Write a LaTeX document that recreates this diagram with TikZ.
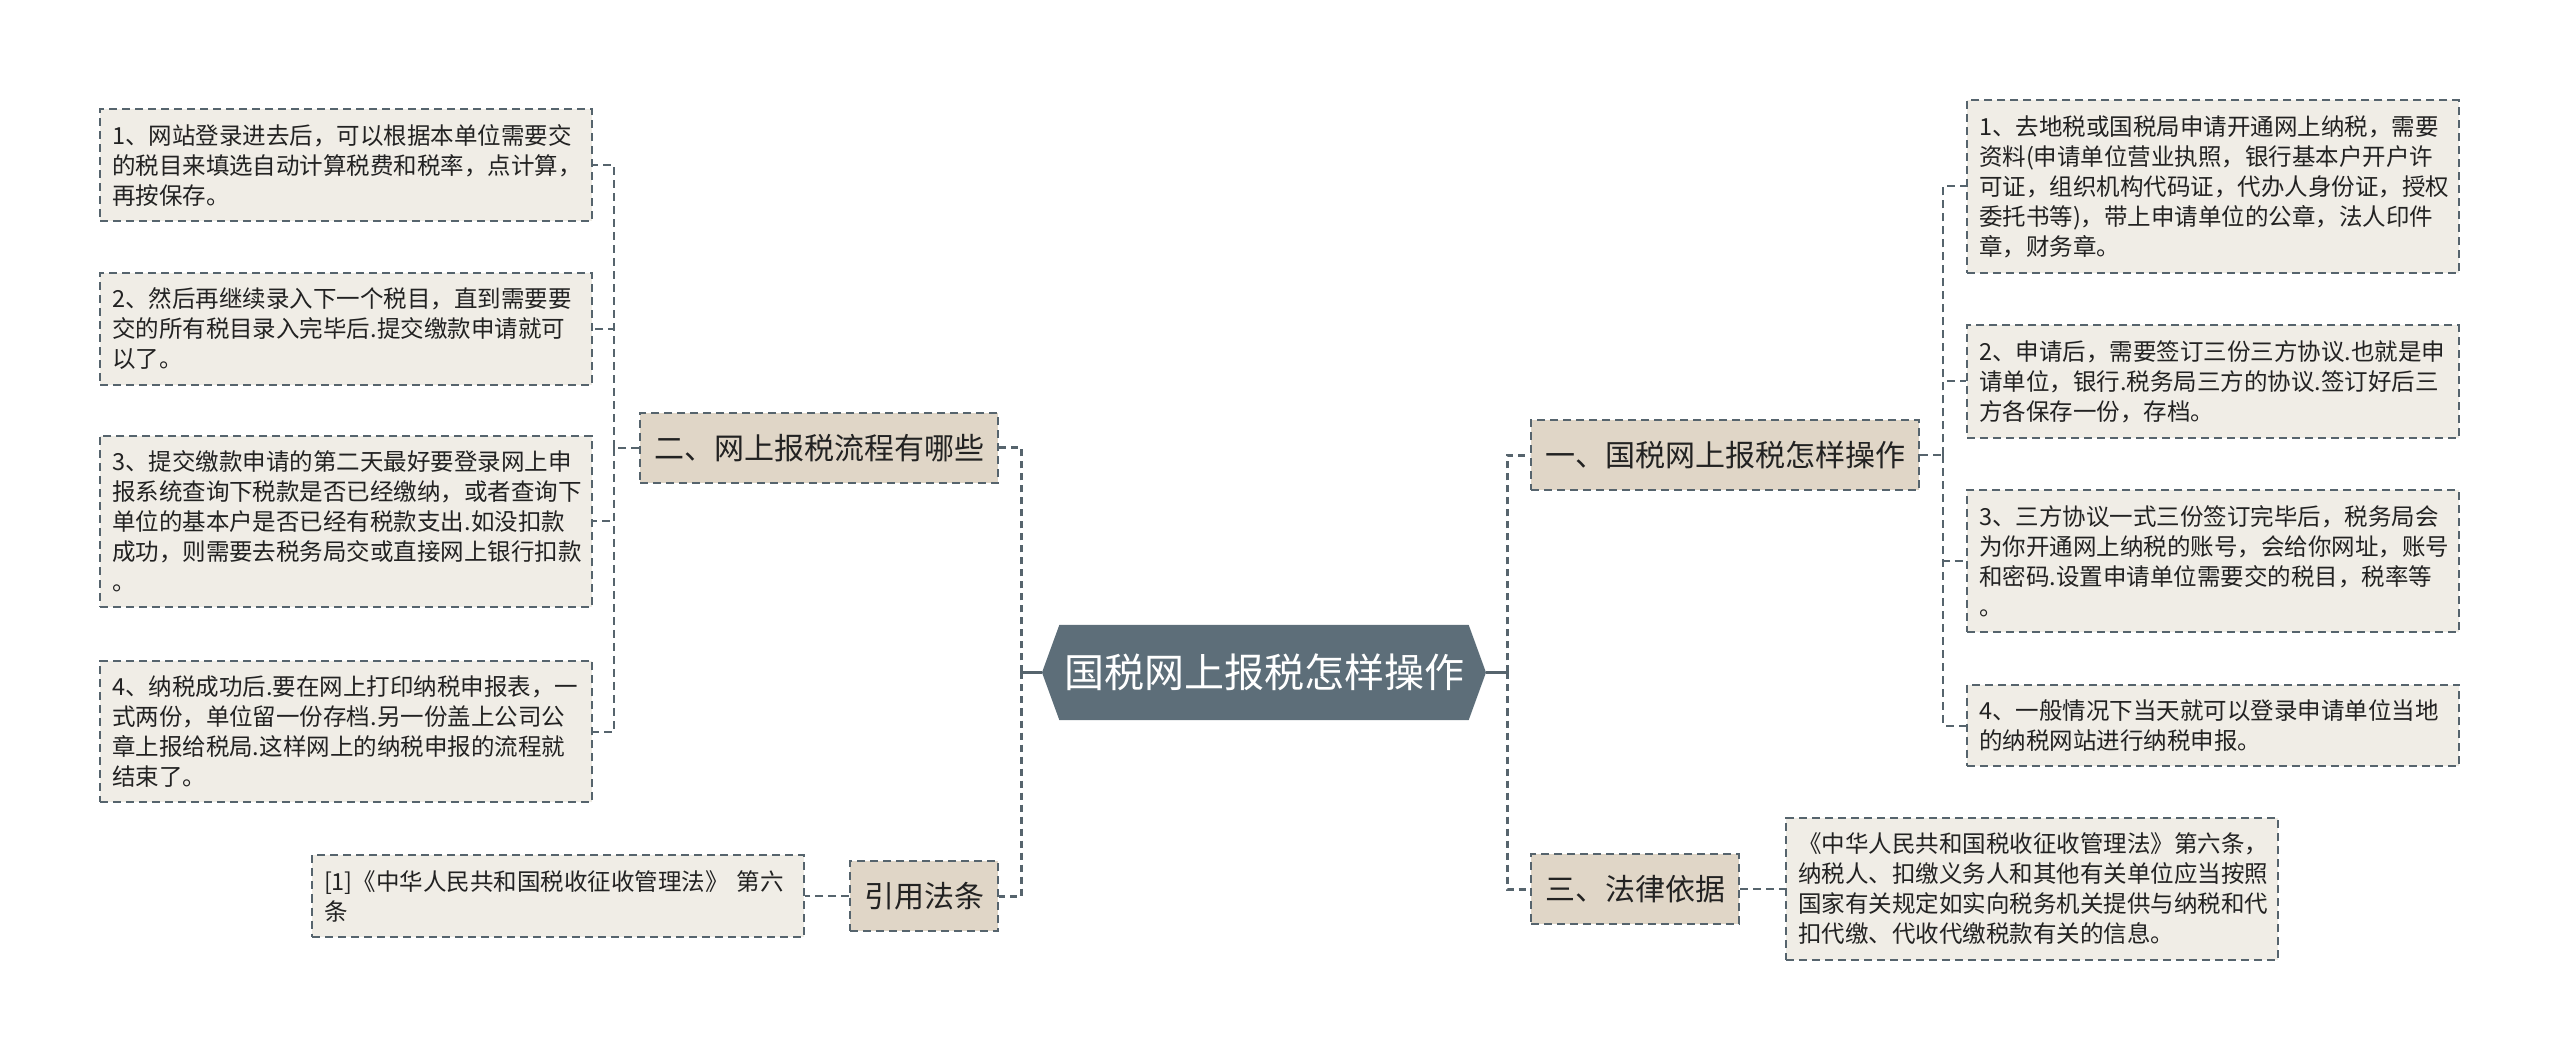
\documentclass[tikz,border=0pt]{standalone}
\usepackage{fontspec}
\setmainfont{Noto Sans CJK SC}
\usetikzlibrary{shapes.symbols}

\definecolor{linec}{HTML}{56646D}
\definecolor{rootc}{HTML}{5D6E79}
\definecolor{leafc}{HTML}{F0EDE6}
\definecolor{branchc}{HTML}{E0D6C7}
\definecolor{textc}{HTML}{222222}

\tikzset{
  box/.style={draw=linec,line width=1pt,dash pattern=on 4pt off 2.5pt,text=textc},
  leaf/.style={box,fill=leafc,text width=234pt,align=left,inner xsep=6pt,inner ysep=7.5pt,
    font=\fontsize{11.75pt}{15pt}\selectfont},
  branch/.style={box,fill=branchc,minimum height=35pt,inner xsep=7pt,
    font=\fontsize{15pt}{18pt}\selectfont},
  rootbox/.style={shape=signal,signal to=west and east,signal pointer angle=140,fill=rootc,
    text=white,minimum width=222pt,minimum height=47.5pt,inner sep=0pt,
    font=\fontsize{20pt}{24pt}\selectfont},
  link/.style={draw=linec,line width=1pt,dash pattern=on 4pt off 2.5pt},
  trunk/.style={draw=linec,line width=1.5pt,dash pattern=on 3.5pt off 2.5pt},
  stem/.style={draw=linec,line width=1.5pt}
}

\begin{document}
\begin{tikzpicture}[x=0.5pt,y=-0.5pt]
\useasboundingbox (0,0) rectangle (2560,1063);

% centre
\node[rootbox] (root) at (1264,672.5) {国税网上报税怎样操作};
\coordinate (lt) at (1021,672.5);
\coordinate (rt) at (1507,672.5);

% branches
\node[branch,anchor=east] (b2) at (999,448) {二、网上报税流程有哪些};
\node[branch,anchor=east] (cite) at (999,896) {引用法条};
\node[branch,anchor=west] (b1) at (1530,455.5) {一、国税网上报税怎样操作};
\node[branch,anchor=west] (b3) at (1530,889) {三、法律依据};

\draw[stem] (root.west) -- (lt);
\draw[stem] (root.east) -- (rt);
\draw[trunk] (lt) |- (b2.east);
\draw[trunk] (lt) |- (cite.east);
\draw[trunk] (rt) |- (b1.west);
\draw[trunk] (rt) |- (b3.west);

% left leaves
\node[leaf,anchor=east] (l1) at (593,165) {1、网站登录进去后，可以根据本单位需要交\\的税目来填选自动计算税费和税率，点计算，\\再按保存。};
\node[leaf,anchor=east] (l2) at (593,329) {2、然后再继续录入下一个税目，直到需要要\\交的所有税目录入完毕后.提交缴款申请就可\\以了。};
\node[leaf,anchor=east] (l3) at (593,521.5) {3、提交缴款申请的第二天最好要登录网上申\\报系统查询下税款是否已经缴纳，或者查询下\\单位的基本户是否已经有税款支出.如没扣款\\成功，则需要去税务局交或直接网上银行扣款\\。};
\node[leaf,anchor=east] (l4) at (593,731.5) {4、纳税成功后.要在网上打印纳税申报表，一\\式两份，单位留一份存档.另一份盖上公司公\\章上报给税局.这样网上的纳税申报的流程就\\结束了。};
\node[leaf,anchor=east] (ref) at (805,896) {[1]《中华人民共和国税收征收管理法》 第六\\条};

\coordinate (k2) at (614,448);
\draw[link] (b2.west) -- (k2);
\foreach \i in {1,...,4}
  \draw[link] (k2) |- (l\i.east);
\draw[link] (cite.west) -- (ref.east);

% right leaves
\node[leaf,anchor=west] (r1) at (1966,186.5) {1、去地税或国税局申请开通网上纳税，需要\\资料(申请单位营业执照，银行基本户开户许\\可证，组织机构代码证，代办人身份证，授权\\委托书等)，带上申请单位的公章，法人印件\\章，财务章。};
\node[leaf,anchor=west] (r2) at (1966,381.5) {2、申请后，需要签订三份三方协议.也就是申\\请单位，银行.税务局三方的协议.签订好后三\\方各保存一份，存档。};
\node[leaf,anchor=west] (r3) at (1966,561) {3、三方协议一式三份签订完毕后，税务局会\\为你开通网上纳税的账号，会给你网址，账号\\和密码.设置申请单位需要交的税目，税率等\\。};
\node[leaf,anchor=west] (r4) at (1966,725.5) {4、一般情况下当天就可以登录申请单位当地\\的纳税网站进行纳税申报。};
\node[leaf,anchor=west] (law) at (1785,889) {《中华人民共和国税收征收管理法》第六条，\\纳税人、扣缴义务人和其他有关单位应当按照\\国家有关规定如实向税务机关提供与纳税和代\\扣代缴、代收代缴税款有关的信息。};

\coordinate (k1) at (1943,455.5);
\draw[link] (b1.east) -- (k1);
\foreach \i in {1,...,4}
  \draw[link] (k1) |- (r\i.west);
\draw[link] (b3.east) -- (law.west);
\end{tikzpicture}
\end{document}
